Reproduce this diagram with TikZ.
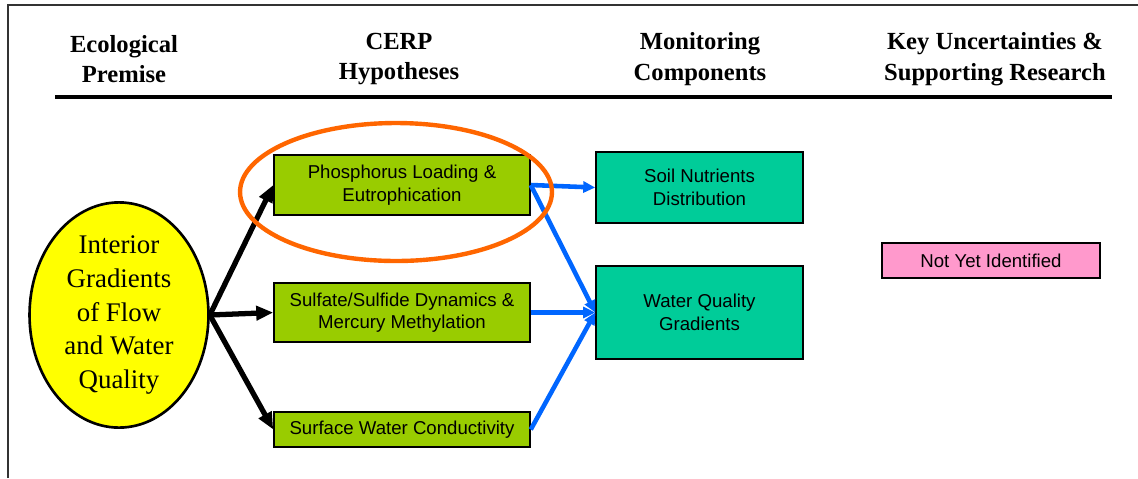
\documentclass[tikz,border=0pt]{standalone}
\usepackage{fontspec}
\setmainfont{Liberation Serif}
\setsansfont{Liberation Sans}
\usetikzlibrary{arrows.meta,shapes.geometric}
\definecolor{grass}{RGB}{153,204,0}
\definecolor{sea}{RGB}{0,204,153}
\definecolor{rose}{RGB}{255,153,204}
\definecolor{lemon}{RGB}{255,255,0}
\definecolor{tangerine}{RGB}{255,102,0}
\definecolor{sky}{RGB}{0,102,255}
\tikzset{
  >={Triangle[length=3.4mm,width=2.8mm]},
  head/.style={font=\fontsize{14}{17.5}\selectfont\bfseries,align=center},
  box/.style={draw,line width=0.9pt,fill=#1,align=center,inner sep=0pt,
    font=\sffamily\fontsize{10.6}{12.8}\selectfont},
  box/.default=grass,
  hyp/.style={box=grass,minimum width=5.12cm},
  comp/.style={box=sea,minimum width=4.14cm},
  premise/.style={ellipse,draw,line width=1.5pt,fill=lemon,inner sep=0pt,
    minimum width=3.58cm,minimum height=4.06cm,align=center,
    font=\fontsize{15.3}{19.3}\selectfont},
  push/.style={->,line width=3pt},
  feed/.style={->,draw=sky,line width=2.6pt,>={Triangle[length=2.4mm,width=2.2mm]}},
}
\begin{document}
\begin{tikzpicture}[x=0.02cm,y=-0.02cm]
  \useasboundingbox (0,0) rectangle (1138,478);
  % frame and column rule
  \draw[line width=1pt,black!80] (8,478) -- (8,5) -- (1138,5);
  \draw[line width=2.2pt] (55,97) -- (1112,97);

  \node[head] (h1) at (124,59) {Ecological\\Premise};
  \node[head] (h2) at (399,59) {CERP\\Hypotheses};
  \node[head] (h3) at (700,59) {Monitoring\\Components};
  \node[head] (h4) at (995,59) {Key Uncertainties \&\\Supporting Research};

  \node[premise] (prem) at (119,315) {Interior\\Gradients\\of Flow\\and Water\\Quality};

  \node[hyp,minimum height=1.2cm] (phos) at (402,185) {Phosphorus Loading \&\\Eutrophication};
  \node[hyp,minimum height=1.18cm] (sulf) at (402,312.5) {Sulfate/Sulfide Dynamics \&\\Mercury Methylation};
  \node[hyp,minimum height=0.7cm] (cond) at (402,429.5) {Surface Water Conductivity};

  \node[comp,minimum height=1.42cm] (soil) at (699.5,187.5) {Soil Nutrients\\Distribution};
  \node[comp,minimum height=1.86cm] (wq) at (699.5,312.5) {Water Quality\\Gradients};

  \node[box=rose,minimum width=4.36cm,minimum height=0.7cm] (nyi) at (991,260.5) {Not Yet Identified};

  \draw[push] (prem.east) -- (phos.west);
  \draw[push] (prem.east) -- (sulf.west);
  \draw[push] (prem.east) -- (cond.west);

  \draw[feed] (phos.east) -- (soil.west);
  \draw[feed] (phos.east) -- (wq.west);
  \draw[feed] (sulf.east) -- (wq.west);
  \draw[feed] (cond.east) -- (wq.west);

  % highlight
  \node[ellipse,draw=tangerine,line width=2.5pt,minimum width=6.24cm,minimum height=2.76cm] (ring) at (396,192) {};
\end{tikzpicture}
\end{document}
